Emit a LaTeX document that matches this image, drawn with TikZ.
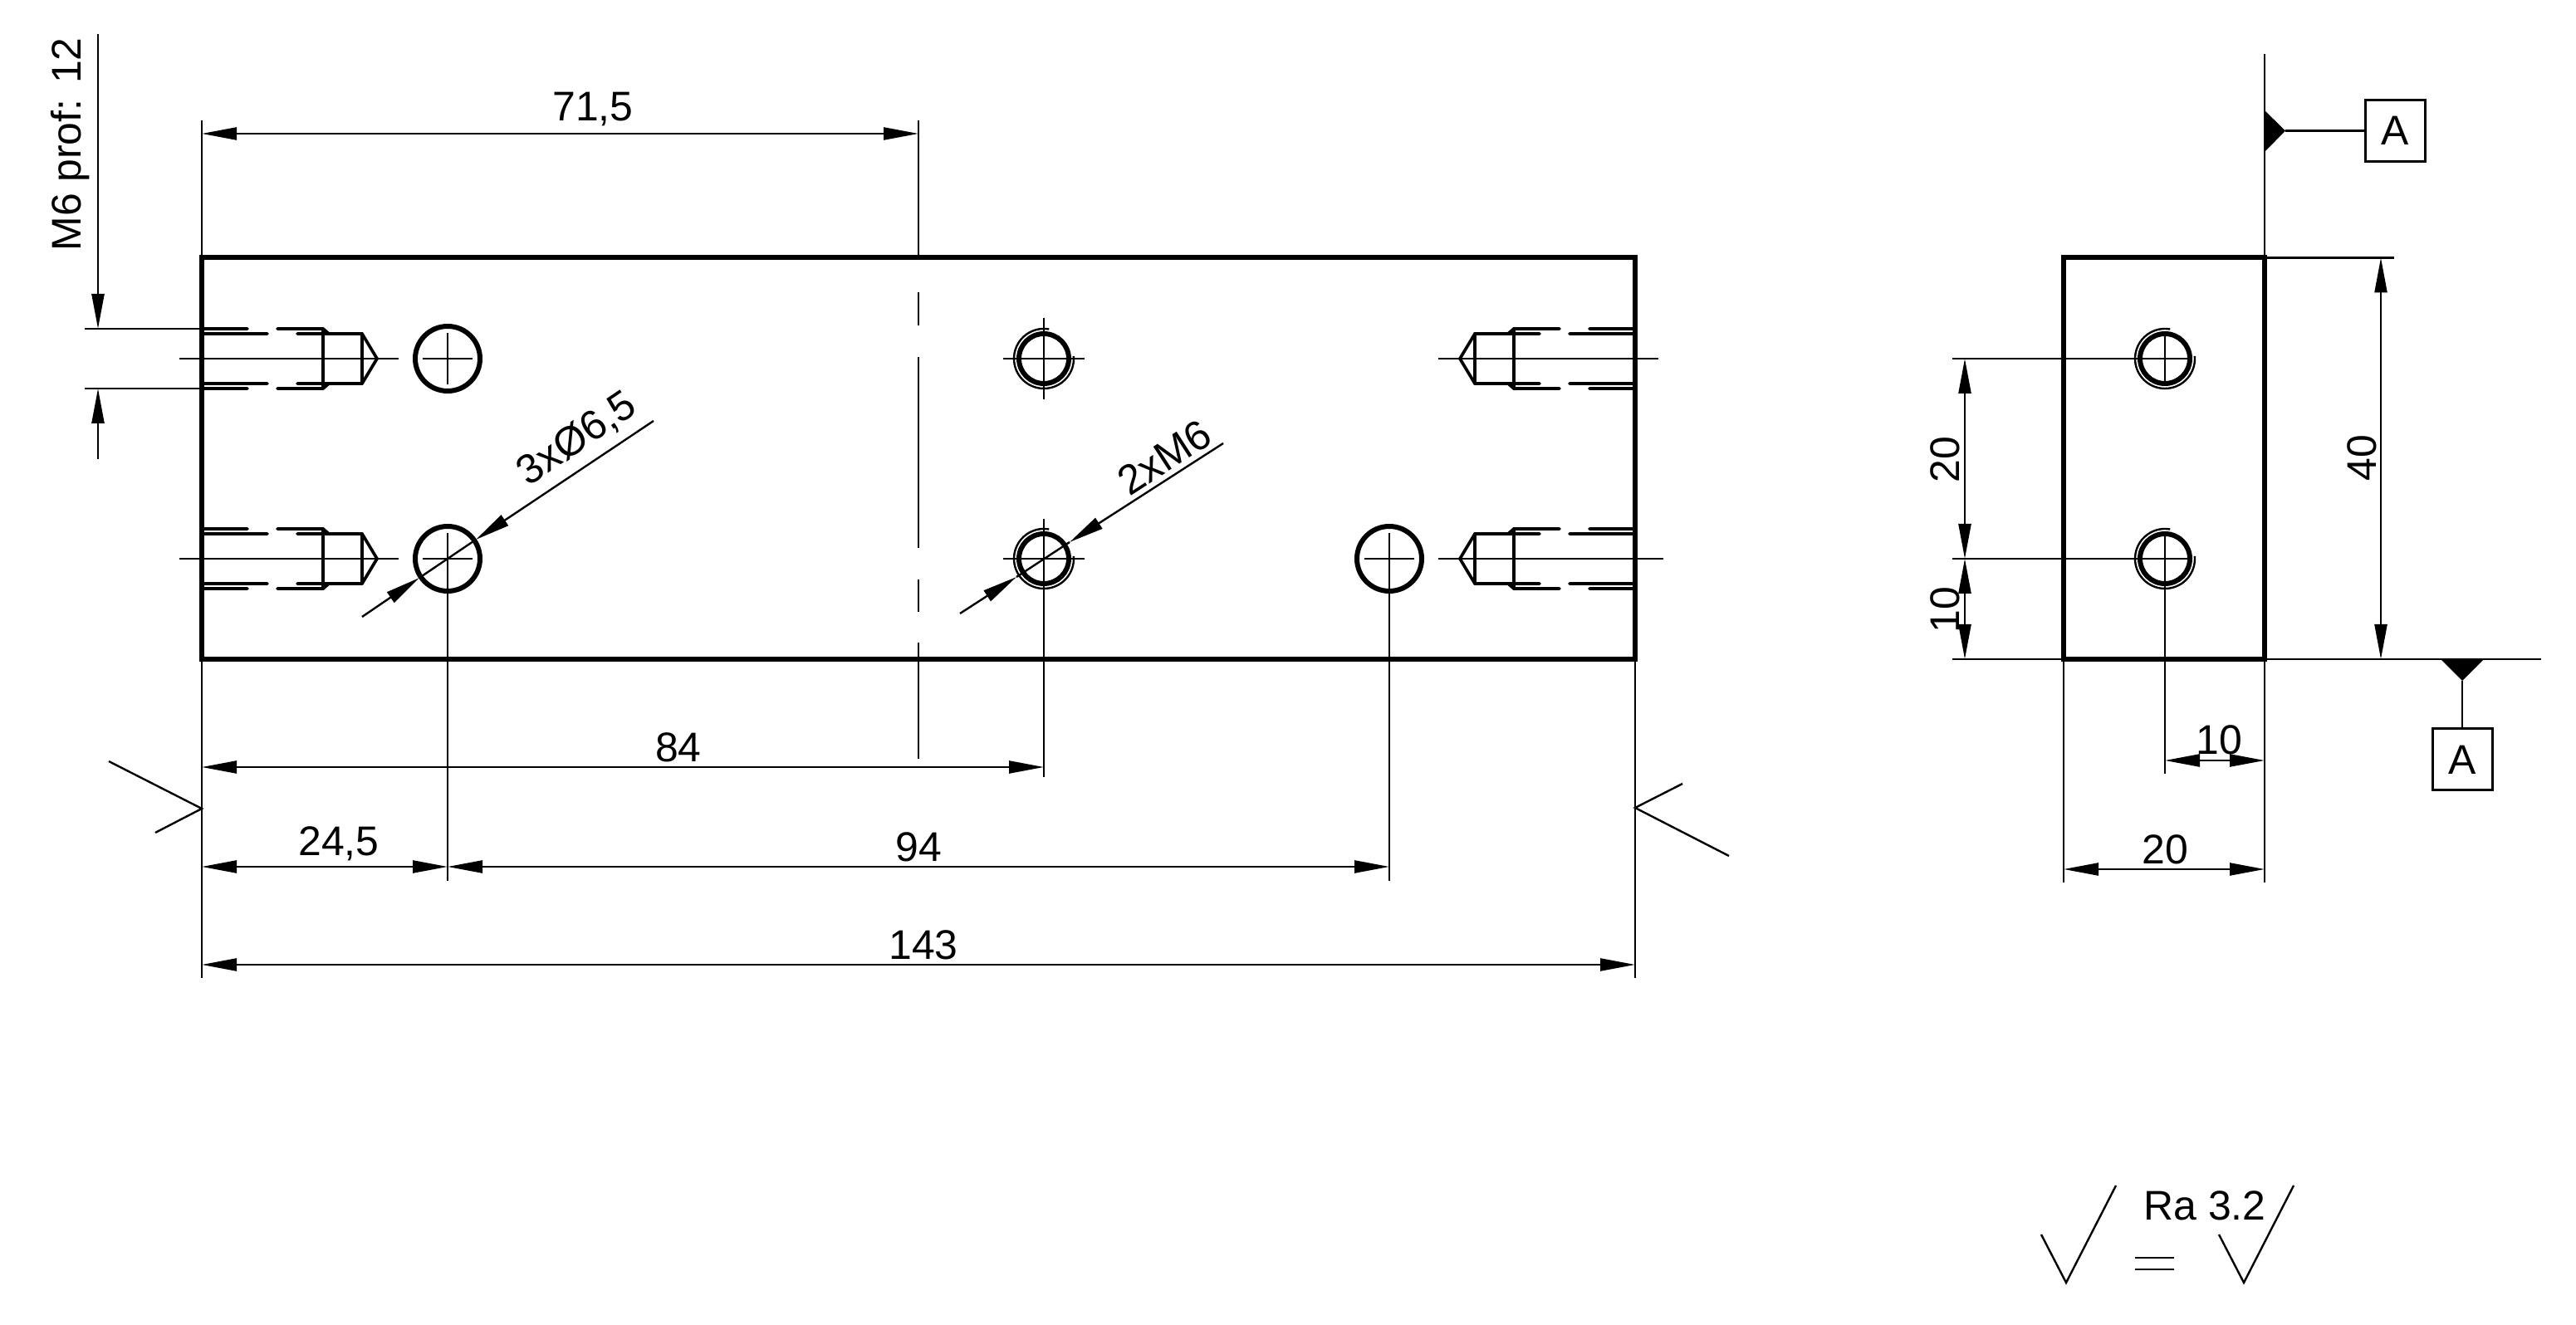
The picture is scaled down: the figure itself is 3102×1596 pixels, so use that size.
\documentclass[tikz,border=0pt]{standalone}
\usepackage{fontspec}
\setmainfont{Liberation Sans}
\usepackage{tikz}
\usetikzlibrary{arrows.meta}
\tikzstyle{outline} = [line width=.6mm, line join=miter]
\tikzstyle{threadline} = [line width=.37mm, line cap=round, line join=round]
\tikzstyle{thinline} = [line width=.24mm]
\tikzstyle{dimline} = [line width=.24mm, >={Triangle[length=4.2mm,width=1.5mm]}]
\tikzstyle{dimtext} = [inner sep=0pt, font=\fontsize{14.2pt}{16pt}\selectfont]
\tikzstyle{datumbox} = [rectangle, draw, line width=.3mm, inner sep=0pt,
                     font=\fontsize{14.2pt}{16pt}\selectfont,
                     minimum width=7.2mm, minimum height=7.4mm]
\tikzstyle{datumtip} = [fill=black, draw=none]
% one threaded blind hole, seen from the side
\newcommand{\studhole}[1]{
\draw[thinline] (-#1,0) -- (237,0);
\foreach \s in {-1,1}{
\draw[threadline] (0,\s*36) -- (55,\s*36) (91,\s*36) -- (146,\s*36) -- (153,\s*30);
\draw[threadline] (0,\s*30) -- (79,\s*30) (115,\s*30) -- (193,\s*30) -- (211,0);
}
\draw[threadline] (146,-36) -- (146,36) (193,-30) -- (193,30);
}
% hole with a thread: thick core and open thin arc
\newcommand{\mhole}[1]{
\draw[outline] (#1) circle (30);
\draw[thinline] ([shift={(-5:36)}]#1) arc (-5:280:36);
}
\begin{document}
\begin{tikzpicture}[x=.1mm,y=-.1mm]
\useasboundingbox (0,0) rectangle (3102,1596);
% Front view
\draw[outline] (243,310.5) rectangle (1969,794);
\foreach \y in {432,673}{
\begin{scope}[shift={(243,\y)}]
\studhole{27}
\end{scope}
}
\begin{scope}[shift={(1969,432)},xscale=-1]
\studhole{28}
\end{scope}
\begin{scope}[shift={(1969,673)},xscale=-1]
\studhole{34}
\end{scope}

%Through holes
\coordinate (holeA) at (539,432);
\coordinate (holeB) at (539,673);
\coordinate (holeC) at (1673,673);
\draw[outline] (holeA) circle (39);
\draw[outline] (holeB) circle (39);
\draw[outline] (holeC) circle (39);
\draw[thinline] (509,432) -- (569,432) (539,401) -- (539,463);
\draw[thinline] (509,673) -- (569,673) (539,642) -- (539,1061);
\draw[thinline] (1643,673) -- (1703,673) (1673,642) -- (1673,1061);

%Threaded holes
\coordinate (holeD) at (1257,432);
\coordinate (holeE) at (1257,673);
\mhole{holeD}
\mhole{holeE}
\draw[thinline] (1208,432) -- (1306,432) (1257,383) -- (1257,481);
\draw[thinline] (1208,673) -- (1306,673) (1257,625) -- (1257,936);

%Centre line
\draw[thinline] (1106,145) -- (1106,310);
\draw[thinline] (1106,352) -- (1106,392) (1106,430) -- (1106,660);
\draw[thinline] (1106,698) -- (1106,737) (1106,774) -- (1106,914);

% Side view
\draw[outline] (2485,310.5) rectangle (2727,794);
\coordinate (holeF) at (2607,432);
\coordinate (holeG) at (2607,673);
\mhole{holeF}
\mhole{holeG}
\draw[thinline] (2351,432) -- (2635,432) (2607,405) -- (2607,459);
\draw[thinline] (2351,673) -- (2635,673) (2607,646) -- (2607,932);

% Extension lines
\draw[thinline] (243,145) -- (243,310);
\draw[thinline] (243,794) -- (243,1178) (1969,794) -- (1969,1178);
\draw[thinline] (102,396) -- (243,396) (102,468) -- (243,468);
\draw[thinline] (2351,794) -- (3060,794);
\draw[thinline] (2727,310.5) -- (2883,310.5) (2727,65) -- (2727,310);
\draw[thinline] (2485,794) -- (2485,1063) (2727,794) -- (2727,1063);

% Dimensions
\draw[dimline,<->] (243,161) -- (1106,161);
\node[dimtext] (dimA) at (714,132) {71,5};
\draw[dimline,<->] (243,924) -- (1257,924);
\node[dimtext] (dimB) at (817,900) {84};
\draw[dimline,<->] (243,1044) -- (539,1044);
\node[dimtext] (dimC) at (408,1016) {24,5};
\draw[dimline,<->] (539,1044) -- (1673,1044);
\node[dimtext] (dimD) at (1106,1020) {94};
\draw[dimline,<->] (243,1162) -- (1969,1162);
\node[dimtext] (dimE) at (1112,1138) {143};
\draw[dimline,->] (118,41) -- (118,396);
\draw[dimline,->] (118,553) -- (118,468);
\node[dimtext,rotate=90] (dimF) at (85,174) {M6 prof: 12};
\draw[dimline,<->] (2366,432) -- (2366,673);
\node[dimtext,rotate=90] (dimG) at (2342,554) {20};
\draw[dimline,<->] (2366,673) -- (2366,794);
\node[dimtext,rotate=90] (dimH) at (2342,735) {10};
\draw[dimline,<->] (2867,310.5) -- (2867,794);
\node[dimtext,rotate=90] (dimI) at (2844,552) {40};
\draw[dimline,<->] (2607,916) -- (2727,916);
\node[dimtext] (dimJ) at (2672,891) {10};
\draw[dimline,<->] (2485,1047) -- (2727,1047);
\node[dimtext] (dimK) at (2607,1023) {20};

% Leaders
\draw[dimline,->] (787,507) -- (573,650);
\draw[dimline] (573,650) -- (505,696);
\draw[dimline,->] (436,743) -- (505,696);
\node[dimtext,rotate=34] (dimL) at (695,529) {3xØ6,5};
\draw[dimline,->] (1473,534) -- (1288,653);
\draw[dimline] (1288,653) -- (1224,695);
\draw[dimline,->] (1156,739) -- (1224,695);
\node[dimtext,rotate=33] (dimM) at (1402,551) {2xM6};

% Datum A
\node[datumbox] (datumtop) at (2884,157.5) {A};
\coordinate (tiptop) at (2752,157.5);
\fill[datumtip] (2727,133) -- (tiptop) -- (2727,183) -- cycle;
\draw[thinline] (tiptop) -- (datumtop);
\node[datumbox] (datumbot) at (2965,915) {A};
\coordinate (tipbot) at (2965,820);
\fill[datumtip] (2940,795) -- (tipbot) -- (2990,795) -- cycle;
\draw[thinline] (tipbot) -- (datumbot);

% Surface marks
\draw[thinline] (131,917) -- (243,974) -- (187,1003);
\draw[thinline] (2082,1031) -- (1969,973) -- (2026,944);
\draw[thinline] (2458,1487) -- (2488,1545) -- (2548,1428);
\draw[thinline] (2672,1487) -- (2702,1545) -- (2762,1428);
\draw[thinline] (2571,1515) -- (2618,1515) (2571,1529) -- (2618,1529);
\node[dimtext] (rough) at (2655,1452) {Ra 3.2};
\end{tikzpicture}
\end{document}
